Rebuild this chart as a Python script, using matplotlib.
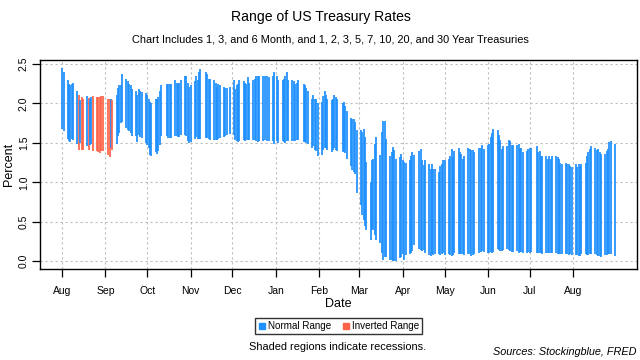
import matplotlib
matplotlib.use('Agg')
import matplotlib.pyplot as plt
import matplotlib.dates as mdates
from matplotlib.lines import Line2D
import pandas as pd
import numpy as np

plt.rcParams['font.family'] = ['Liberation Sans', 'DejaVu Sans']

# ---------------- data ----------------
start_date = '2019-08-01'
end_date = '2020-08-31'
market_holidays = ['2019-09-02', '2019-10-14', '2019-11-11', '2019-11-28', '2019-12-25',
                   '2020-01-01', '2020-01-20', '2020-02-17', '2020-04-10', '2020-05-25',
                   '2020-07-03']

# daily minimum of the curve (Percent), one per trading day
low = [
    # Aug 2019
    1.68, 1.65, 1.55, 1.52, 1.51, 1.55, 1.54, 1.49, 1.41, 1.50, 1.41, 1.41,
    1.46, 1.41, 1.47, 1.49, 1.39, 1.40, 1.38, 1.37, 1.39, 1.39,
    # Sep 2019
    1.34, 1.32, 1.43, 1.41, 1.49, 1.58, 1.62, 1.75, 1.76, 1.69, 1.66, 1.65,
    1.63, 1.59, 1.59, 1.51, 1.60, 1.57, 1.56, 1.50,
    # Oct 2019
    1.47, 1.43, 1.35, 1.33, 1.38, 1.36, 1.39, 1.47, 1.58, 1.58, 1.56, 1.56,
    1.56, 1.58, 1.58, 1.57, 1.57, 1.60, 1.60, 1.58, 1.52, 1.50,
    # Nov 2019
    1.51, 1.55, 1.57, 1.55, 1.55, 1.55, 1.56, 1.56, 1.55, 1.54, 1.54, 1.54,
    1.54, 1.55, 1.56, 1.57, 1.58, 1.60, 1.61,
    # Dec 2019
    1.60, 1.53, 1.52, 1.51, 1.52, 1.53, 1.52, 1.53, 1.54, 1.53, 1.53, 1.54,
    1.52, 1.51, 1.52, 1.52, 1.53, 1.52, 1.52, 1.52, 1.48,
    # Jan 2020
    1.52, 1.50, 1.52, 1.51, 1.50, 1.52, 1.52, 1.52, 1.52, 1.52, 1.53, 1.53,
    1.51, 1.51, 1.50, 1.48, 1.44, 1.46, 1.41, 1.39, 1.33,
    # Feb 2020
    1.34, 1.41, 1.44, 1.43, 1.41, 1.38, 1.41, 1.43, 1.41, 1.40, 1.38, 1.40,
    1.37, 1.30, 1.20, 1.15, 1.13, 1.11, 0.86,
    # Mar 2020
    0.71, 0.58, 0.52, 0.45, 0.39, 0.27, 0.41, 0.39, 0.33, 0.27, 0.23, 0.10,
    0.02, 0.05, 0.05, 0.01, 0.01, 0.00, 0.00, 0.00, 0.04, 0.05,
    # Apr 2020
    0.09, 0.02, 0.08, 0.09, 0.10, 0.13, 0.20, 0.16, 0.14, 0.13, 0.14, 0.11,
    0.08, 0.07, 0.09, 0.08, 0.09, 0.09, 0.08, 0.09, 0.10,
    # May 2020
    0.08, 0.09, 0.08, 0.07, 0.08, 0.10, 0.09, 0.09, 0.09, 0.09, 0.08, 0.09,
    0.09, 0.07, 0.08, 0.09, 0.10, 0.12, 0.13, 0.12,
    # Jun 2020
    0.10, 0.11, 0.12, 0.11, 0.12, 0.16, 0.14, 0.13, 0.13, 0.14, 0.16, 0.14,
    0.13, 0.12, 0.12, 0.13, 0.11, 0.12, 0.12, 0.11, 0.11, 0.12,
    # Jul 2020
    0.10, 0.12, 0.11, 0.11, 0.11, 0.10, 0.09, 0.11, 0.11, 0.11, 0.11, 0.11,
    0.10, 0.09, 0.09, 0.09, 0.09, 0.09, 0.09, 0.08, 0.09, 0.08,
    # Aug 2020
    0.08, 0.08, 0.07, 0.07, 0.09, 0.09, 0.08, 0.08, 0.09, 0.09, 0.09, 0.08,
    0.07, 0.07, 0.06, 0.08, 0.08, 0.09, 0.09, 0.09, 0.07,
]

# daily maximum of the curve (Percent)
high = [
    # Aug 2019
    2.45, 2.39, 2.30, 2.25, 2.23, 2.25, 2.26, 2.15, 2.11, 2.04, 2.08, 2.05,
    2.09, 2.07, 2.06, 2.08, 2.09, 2.08, 2.08, 2.08, 2.09, 2.09,
    # Sep 2019
    2.06, 2.05, 2.06, 2.04, 2.11, 2.19, 2.23, 2.23, 2.37, 2.31, 2.28, 2.25,
    2.23, 2.18, 2.16, 2.10, 2.18, 2.15, 2.14, 2.13,
    # Oct 2019
    2.11, 2.05, 2.01, 2.00, 2.05, 2.05, 2.08, 2.16, 2.23, 2.24, 2.24, 2.24,
    2.25, 2.29, 2.26, 2.25, 2.26, 2.29, 2.34, 2.34, 2.26, 2.20,
    # Nov 2019
    2.23, 2.28, 2.34, 2.30, 2.40, 2.43, 2.39, 2.37, 2.31, 2.31, 2.30, 2.26,
    2.20, 2.24, 2.23, 2.21, 2.19, 2.19, 2.21,
    # Dec 2019
    2.29, 2.18, 2.23, 2.24, 2.29, 2.28, 2.26, 2.24, 2.33, 2.26, 2.30, 2.31,
    2.35, 2.35, 2.34, 2.35, 2.34, 2.34, 2.33, 2.34, 2.39,
    # Jan 2020
    2.34, 2.29, 2.29, 2.31, 2.35, 2.39, 2.29, 2.30, 2.28, 2.24, 2.26, 2.29,
    2.24, 2.23, 2.19, 2.15, 2.05, 2.10, 2.05, 2.05, 2.00,
    # Feb 2020
    2.01, 2.09, 2.15, 2.11, 2.05, 2.04, 2.05, 2.10, 2.08, 2.05, 2.00, 2.01,
    1.97, 1.90, 1.81, 1.80, 1.80, 1.76, 1.66,
    # Mar 2020
    1.66, 1.64, 1.67, 1.57, 1.26, 1.00, 1.28, 1.30, 1.49, 1.57, 1.34, 1.64,
    1.78, 1.78, 1.55, 1.33, 1.38, 1.45, 1.41, 1.29, 1.32, 1.36,
    # Apr 2020
    1.28, 1.26, 1.24, 1.28, 1.33, 1.38, 1.35, 1.39, 1.42, 1.28, 1.22, 1.28,
    1.23, 1.17, 1.23, 1.17, 1.17, 1.13, 1.20, 1.23, 1.28,
    # May 2020
    1.28, 1.29, 1.33, 1.42, 1.32, 1.39, 1.43, 1.38, 1.36, 1.30, 1.33, 1.44,
    1.42, 1.41, 1.41, 1.38, 1.43, 1.44, 1.47, 1.42,
    # Jun 2020
    1.47, 1.48, 1.57, 1.62, 1.68, 1.66, 1.60, 1.53, 1.42, 1.46, 1.46, 1.54,
    1.52, 1.47, 1.47, 1.47, 1.49, 1.44, 1.43, 1.38, 1.39, 1.42,
    # Jul 2020
    1.43, 1.43, 1.46, 1.38, 1.39, 1.33, 1.33, 1.33, 1.30, 1.33, 1.30, 1.33,
    1.33, 1.32, 1.29, 1.24, 1.23, 1.25, 1.23, 1.23, 1.20, 1.19,
    # Aug 2020
    1.23, 1.19, 1.23, 1.20, 1.23, 1.25, 1.33, 1.38, 1.42, 1.46, 1.43, 1.41,
    1.42, 1.38, 1.36, 1.36, 1.39, 1.42, 1.51, 1.52, 1.49,
]

inverted_days = ['2019-08-13', '2019-08-15', '2019-08-16', '2019-08-20', '2019-08-23',
                 '2019-08-26', '2019-08-27', '2019-08-28', '2019-08-29', '2019-08-30',
                 '2019-09-03', '2019-09-04', '2019-09-06']

month_labels = ['Aug', 'Sep', 'Oct', 'Nov', 'Dec', 'Jan', 'Feb', 'Mar', 'Apr',
                'May', 'Jun', 'Jul', 'Aug']
y_ticks = [0.0, 0.5, 1.0, 1.5, 2.0, 2.5]

title = 'Range of US Treasury Rates'
subtitle = 'Chart Includes 1, 3, and 6 Month, and 1, 2, 3, 5, 7, 10, 20, and 30 Year Treasuries'
legend_labels = ['Normal Range', 'Inverted Range']
note = 'Shaded regions indicate recessions.'
source = 'Sources: Stockingblue, FRED'

normal_color = '#1E90FF'
inverted_color = '#FF6347'

# ---------------- build ----------------
dates = pd.bdate_range(start_date, end_date)
dates = dates[~dates.isin(pd.to_datetime(market_holidays))]
assert len(dates) == len(low) == len(high), (len(dates), len(low), len(high))
is_inv = dates.isin(pd.to_datetime(inverted_days))
colors = [inverted_color if v else normal_color for v in is_inv]

x = mdates.date2num(dates.to_pydatetime())

fig = plt.figure(figsize=(6.4, 3.6), dpi=100)
ax = fig.add_axes([40 / 640, 1 - 269 / 360, 597 / 640, 209 / 360])

ax.vlines(x, low, high, colors=colors, linewidth=1.25, capstyle='butt', zorder=3)

span = x[-1] - x[0]
ax.set_xlim(x[0] - 0.04 * span, x[-1] + 0.04 * span)
yr = max(high) - min(low)
ax.set_ylim(min(low) - 0.04 * yr, max(high) + 0.04 * yr)

month_starts = pd.date_range('2019-08-01', '2020-08-01', freq='MS')
ax.set_xticks(mdates.date2num(month_starts.to_pydatetime()))
ax.set_xticklabels(month_labels, fontsize=7.5)
ax.set_yticks(y_ticks)
ax.set_yticklabels([f'{v:.1f}' for v in y_ticks], fontsize=7.5, rotation=90, va='center')

ax.tick_params(axis='both', direction='out', length=6, width=0.9, colors='black')
ax.tick_params(axis='x', pad=6)
ax.tick_params(axis='y', pad=2)

ax.grid(True, color='#bdbdbd', linestyle=(0, (2, 2.5)), linewidth=0.8, zorder=0)
ax.set_axisbelow(True)
for s in ax.spines.values():
    s.set_linewidth(1.0)
    s.set_color('black')

ax.set_xlabel('Date', fontsize=9, labelpad=2)
ax.set_ylabel('Percent', fontsize=9, va='center')
ax.yaxis.set_label_coords((9 - 40) / 597, 0.5)

fig.text(0.502, 0.953, title, ha='center', va='center', fontsize=10.1)
fig.text(0.517, 0.889, subtitle, ha='center', va='center', fontsize=7.9)

handles = [Line2D([], [], linestyle='none', marker='s', markersize=4.2,
                  markerfacecolor=normal_color, markeredgecolor=normal_color),
           Line2D([], [], linestyle='none', marker='s', markersize=4.2,
                  markerfacecolor=inverted_color, markeredgecolor=inverted_color)]
leg = fig.legend(handles, legend_labels, loc='center', bbox_to_anchor=(0.529, 0.094),
                 ncol=2, fontsize=7.1, frameon=True, fancybox=False, edgecolor='black',
                 handlelength=0.8, handletextpad=0.2, columnspacing=1.1,
                 borderpad=0.3, borderaxespad=0)
leg.get_frame().set_linewidth(1.0)

fig.text(0.528, 0.035, note, ha='center', va='center', fontsize=7.9)
fig.text(0.995, 0.022, source, ha='right', va='center', fontsize=7.8, style='italic')

fig.savefig('out.png', dpi=100)
